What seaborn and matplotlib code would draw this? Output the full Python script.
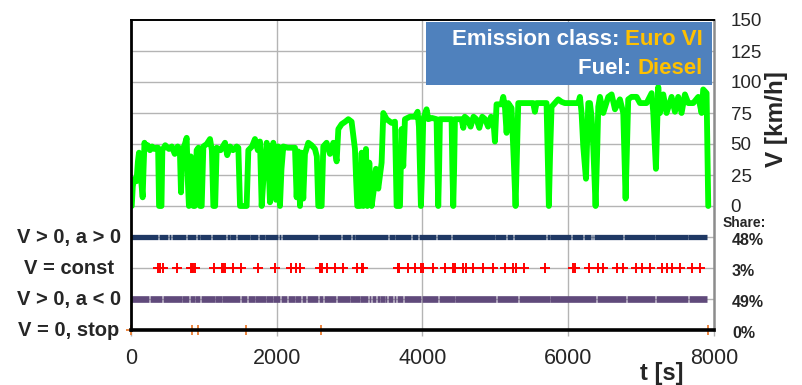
import matplotlib
matplotlib.use("Agg")
import matplotlib.pyplot as plt
import matplotlib.patches as mpatches
import matplotlib.transforms as mtrans
import seaborn as sns
import pandas as pd

# ---------------- data ----------------
t_s = [10, 25, 40, 55, 75, 95, 110, 140, 160, 172, 185, 200, 230, 260, 290, 320, 350, 372,
       385, 400, 418, 430, 470, 520, 560, 600, 640, 670, 686, 705, 740, 764, 780, 795,
       820, 840, 855, 875, 901, 925, 947, 970, 993, 1040, 1084, 1110, 1130, 1155, 1176,
       1230, 1290, 1320, 1360, 1400, 1450, 1473, 1496, 1587, 1610, 1660, 1701, 1740,
       1770, 1793, 1815, 1862, 1885, 1907, 1925, 1953, 1989, 2021, 2044, 2065, 2090,
       2150, 2200, 2250, 2273, 2296, 2319, 2341, 2364, 2387, 2433, 2479, 2524, 2550,
       2570, 2616, 2639, 2684, 2730, 2776, 2822, 2845, 2890, 2940, 2982, 3027, 3073,
       3090, 3105, 3142, 3165, 3187, 3224, 3242, 3270, 3302, 3334, 3361, 3393, 3439,
       3462, 3508, 3576, 3622, 3635, 3645, 3691, 3713, 3736, 3759, 3828, 3896, 3933,
       3951, 3965, 3978, 3995, 4010, 4056, 4079, 4130, 4193, 4205, 4216, 4228, 4239,
       4300, 4399, 4410, 4422, 4434, 4445, 4536, 4560, 4580, 4620, 4660, 4700, 4740,
       4780, 4820, 4860, 4900, 4940, 4971, 4994, 5016, 5085, 5108, 5131, 5154, 5176,
       5222, 5250, 5277, 5295, 5314, 5400, 5519, 5542, 5565, 5702, 5718, 5734, 5750,
       5771, 5817, 5862, 5908, 5954, 6023, 6138, 6160, 6183, 6206, 6243, 6275, 6298,
       6320, 6343, 6375, 6395, 6412, 6435, 6480, 6549, 6595, 6641, 6709, 6755, 6787,
       6823, 6869, 6938, 6984, 7075, 7144, 7166, 7203, 7235, 7258, 7304, 7349, 7418,
       7464, 7509, 7555, 7601, 7647, 7715, 7784, 7830, 7852, 7898, 7921]
v_kmh = [0, 16, 21, 22, 20, 36, 43, 20, 7, 30, 51, 46, 49, 45, 48, 46, 47, 47,
         0, 0, 0, 45, 49, 46, 48, 42, 48, 46, 11, 45, 50, 55, 20, 0,
         40, 30, 0, 0, 45, 47, 0, 0, 48, 50, 54, 45, 0, 0, 47,
         45, 51, 41, 48, 45, 48, 47, 0, 0, 45, 48, 54, 45,
         52, 0, 20, 51, 40, 3, 30, 51, 5, 48, 0, 30, 48,
         47, 47, 47, 7, 44, 0, 43, 6, 42, 51, 49, 46, 40,
         0, 0, 48, 51, 42, 51, 36, 62, 66, 68, 70, 68, 46,
         20, 0, 0, 43, 0, 46, 0, 35, 0, 14, 30, 14, 35,
         75, 70, 67, 68, 30, 0, 0, 62, 32, 70, 72, 72, 76,
         64, 30, 0, 30, 70, 78, 70, 71, 70, 30, 0, 30, 70,
         70, 70, 30, 0, 30, 70, 70, 63, 72, 70, 64, 72, 70,
         63, 72, 70, 64, 72, 70, 52, 82, 82, 88, 80, 59, 83,
         79, 40, 0, 40, 83, 83, 83, 76, 83, 83, 40, 0, 40,
         80, 83, 86, 84, 83, 83, 83, 88, 75, 48, 22, 83, 83,
         72, 48, 0, 40, 80, 88, 75, 88, 90, 78, 86, 75, 6,
         86, 88, 88, 83, 83, 91, 76, 30, 96, 75, 90, 75, 88,
         76, 88, 75, 90, 83, 83, 88, 75, 94, 91, 0]

# state rows: time gaps in the "V > 0, a > 0" band
accel_gaps = [375, 512, 558, 764, 901, 947, 1107, 1313, 1358, 1450, 1633, 1747, 1839,
              2022, 2067, 2570, 2890, 3027, 3073, 3531, 3622, 3851, 3942, 4194, 4399,
              4994, 5154, 5245, 5703, 5749, 6046, 6206, 6320, 6343, 6755, 7189, 7646]
accel_end = 7907
# time gaps in the "V > 0, a < 0" band
decel_gaps = [250, 430, 700, 800, 880, 950, 1150, 1250, 1500, 1600, 1700, 1850, 1950,
              2050, 2150, 2250, 2342, 2410, 2570, 2639, 2822, 3005, 3142, 3256, 3302,
              3371, 3416, 3485, 3517, 3599, 3645, 3737, 3988, 4217, 4445, 5017, 5314,
              5749, 6389, 6800, 7200, 7650]
decel_end = 7900
# "V = const" instants
const_t = [375, 398, 443, 627, 819, 835, 850, 880, 1139, 1248, 1265, 1290, 1399, 1509,
           1742, 1976, 2195, 2264, 2319, 2593, 2605, 2616, 2685, 2799, 2913, 3106,
           3165, 3175, 3188, 3659, 3670, 3682, 3805, 3897, 3974, 4002, 4139, 4308,
           4423, 4445, 4551, 4592, 4697, 4825, 4962, 5131, 5246, 5282, 5392, 5680,
           6060, 6092, 6289, 6403, 6476, 6668, 6750, 6929, 7011, 7121, 7285, 7354,
           7423, 7532, 7697, 7807]
# "V = 0, stop" instants
stop_t = [0, 840, 915, 1580, 2610, 7920]

row_labels = ["V > 0, a > 0", "V = const", "V > 0, a < 0", "V = 0, stop"]
row_y = [-25, -50, -75, -100]
shares = ["48%", "3%", "49%", "0%"]
speed_ticks = [0, 25, 50, 75, 100, 125, 150]
x_ticks = [0, 2000, 4000, 6000, 8000]

# ---------------- style ----------------
sns.set_theme(style="white")
plt.rcParams["font.family"] = ["Liberation Sans", "DejaVu Sans"]

fig = plt.figure(figsize=(8.03, 3.85), dpi=100)
ax = fig.add_axes([131 / 803, 55 / 385, 583 / 803, 310 / 385])

grid_c = "#b4b4b4"
for y in [-75, -50, -25, 0, 25, 50, 75, 100, 125]:
    ax.axhline(y, color=grid_c, lw=1.0, zorder=0)
for x in [2000, 4000, 6000]:
    ax.axvline(x, color=grid_c, lw=1.0, zorder=0)

# speed line
df = pd.DataFrame({"t": t_s, "v": v_kmh})
sns.lineplot(data=df, x="t", y="v", color="#00ff00", lw=4.2, estimator=None,
             sort=False, ax=ax, zorder=3)


def segments(gaps, end, gap_w=8):
    starts = [0] + [g + gap_w / 2 for g in gaps]
    ends = [g - gap_w / 2 for g in gaps] + [end]
    return starts, ends


s, e = segments(accel_gaps, accel_end)
ax.hlines([row_y[0]] * len(s), s, e, color="#1f3864", lw=3.8, zorder=4)
s, e = segments(decel_gaps, decel_end)
ax.hlines([row_y[2]] * len(s), s, e, color="#604a7b", lw=4.8, zorder=4)

ax.plot(const_t, [row_y[1]] * len(const_t), ls="none", marker="+", ms=6.5, mew=1.4,
        color="#ff0000", zorder=5)
ax.plot(stop_t, [row_y[3]] * len(stop_t), ls="none", marker="+", ms=7, mew=1.3,
        color="#ed7d31", zorder=6, clip_on=False)

ax.set_xlim(0, 8000)
ax.set_ylim(-100, 150)
ax.set_xlabel("")
ax.set_ylabel("")
ax.set_xticks(x_ticks)
ax.set_xticklabels([str(v) for v in x_ticks], fontsize=15.5)
ax.tick_params(axis="x", length=4, width=1, color=grid_c, pad=9, direction="out",
               bottom=True)

ax.yaxis.tick_right()
ax.set_yticks(speed_ticks)
ax.set_yticklabels([str(v) for v in speed_ticks], fontsize=13.5)
ax.tick_params(axis="y", length=0, pad=12, right=True, left=False)

for sp in ["left", "bottom", "top"]:
    ax.spines[sp].set_color("black")
ax.spines["left"].set_linewidth(2.0)
ax.spines["bottom"].set_linewidth(2.6)
ax.spines["top"].set_linewidth(1.4)
ax.spines["right"].set_color("#8c8c8c")
ax.spines["right"].set_linewidth(1.8)
for sp in ax.spines.values():
    sp.set_zorder(7)

blend = mtrans.blended_transform_factory(ax.transAxes, ax.transData)
for lab, y, sh in zip(row_labels, row_y, shares):
    ax.text(-0.1063, y, lab, transform=blend, ha="center", va="center",
            fontsize=14.5, fontweight="bold")
    ax.text(1.031, y - 2.5, sh, transform=blend, ha="left", va="center",
            fontsize=11.5, fontweight="bold")
ax.text(1.0154, -13.5, "Share:", transform=blend, ha="left", va="center",
        fontsize=10, fontweight="bold")

ax.text(1.107, 0.68, "V [km/h]", transform=ax.transAxes, rotation=90,
        ha="center", va="center", fontsize=17.5, fontweight="bold")
ax.text(0.911, -0.139, "t [s]", transform=ax.transAxes, ha="center", va="center",
        fontsize=17, fontweight="bold")

# info box
box = mpatches.Rectangle((0.506, 0.790), 0.4906, 0.2035, transform=ax.transAxes,
                         facecolor="#4f81bd", edgecolor="none", zorder=8)
ax.add_patch(box)
t1 = ax.text(0.981, 0.9355, "Euro VI", transform=ax.transAxes, ha="right",
             va="center", fontsize=16, fontweight="bold", color="#ffc000", zorder=9)
ax.annotate("Emission class: ", xy=(0, 0), xycoords=t1, ha="right", va="bottom",
            fontsize=16, fontweight="bold", color="white", zorder=9)
t2 = ax.text(0.981, 0.845, "Diesel", transform=ax.transAxes, ha="right",
             va="center", fontsize=16, fontweight="bold", color="#ffc000", zorder=9)
ax.annotate("Fuel: ", xy=(0, 0), xycoords=t2, ha="right", va="bottom",
            fontsize=16, fontweight="bold", color="white", zorder=9)

fig.savefig("out.png", dpi=100)
